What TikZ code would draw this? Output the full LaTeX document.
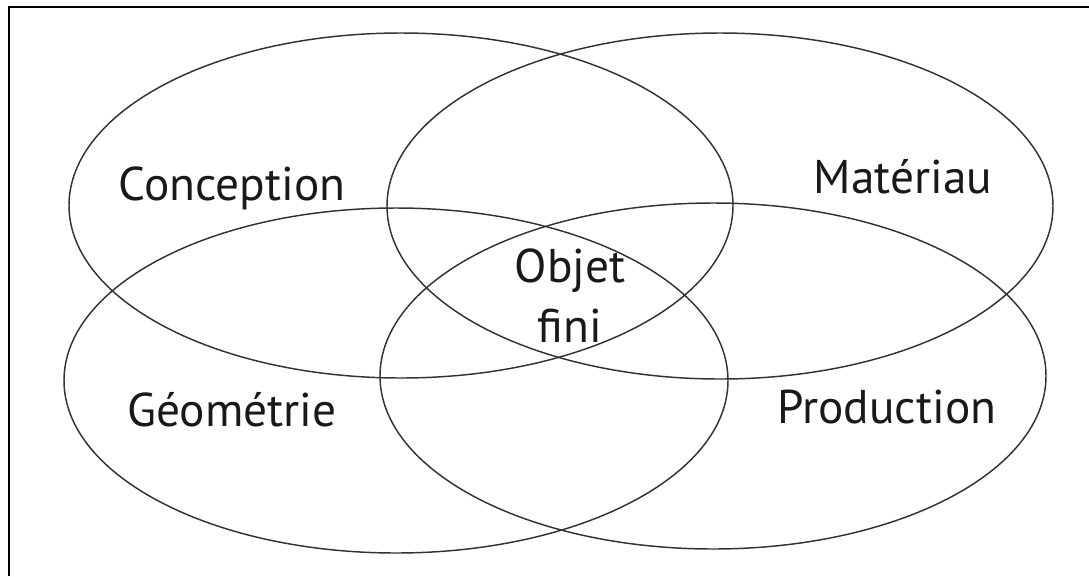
\documentclass[tikz,border=0pt]{standalone}
\usepackage{fontspec}
\setmainfont{PT Sans}
\begin{document}
\begin{tikzpicture}[x=0.75pt,y=0.75pt,yscale=-1,xscale=1,
  ring/.style={draw=black!80, line width=1.1pt},
  lbl/.style={inner sep=0.75pt, font=\fontsize{35.5}{45}\selectfont, text=black!90}]
\useasboundingbox (0,0) rectangle (1089,576);

%Frame (only top and left sides are inside the picture)
\draw [line width=1.5pt] (9,576) -- (9,7) -- (1089,7) ;

%Shape: Ellipse [Conception]
\draw [ring] (401,205.5) ellipse (332 and 172.5) ;
%Shape: Ellipse [Materiau]
\draw [ring] (720,206) ellipse (333 and 173) ;
%Shape: Ellipse [Geometrie]
\draw [ring] (396,380.5) ellipse (332 and 172.5) ;
%Shape: Ellipse [Production]
\draw [ring] (713,376) ellipse (333 and 173) ;

% Text Node
\node [lbl, anchor=base] (conception) at (232,200) {Conception};
% Text Node
\node [lbl, anchor=base] (materiau) at (903,193) {Matériau};
% Text Node
\node [lbl, anchor=base] (geometrie) at (232,426) {Géométrie};
% Text Node
\node [lbl, anchor=base, align=center] (objet) at (570,342) {Objet\\fini};
% Text Node
\node [lbl, anchor=base] (production) at (887,423) {Production};
\end{tikzpicture}
\end{document}
